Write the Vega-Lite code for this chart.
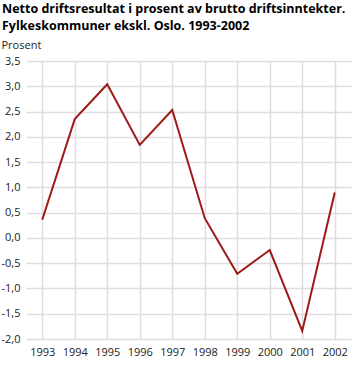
{
  "$schema": "https://vega.github.io/schema/vega-lite/v6.json",
  "width": 325,
  "height": 278,
  "autosize": "none",
  "padding": {"left": 26, "top": 61, "right": 11, "bottom": 26},
  "background": "white",
  "title": {
    "text": ["Netto driftsresultat i prosent av brutto driftsinntekter.", "Fylkeskommuner ekskl. Oslo. 1993-2002"],
    "anchor": "start",
    "frame": "group",
    "dx": -24,
    "offset": 7,
    "font": "Open Sans",
    "fontSize": 12.5,
    "fontWeight": "bold",
    "color": "#000000",
    "lineHeight": 17
  },
  "config": {
    "locale": {"number": {"decimal": ",", "thousands": " ", "grouping": [3], "currency": ["", " kr"], "minus": "-"}},
    "view": {"stroke": null},
    "axis": {"labelFont": "Open Sans", "labelFontSize": 11, "labelColor": "#222222", "gridColor": "#dddddd", "gridWidth": 1.5, "domain": false, "ticks": false}
  },
  "data": {
    "values": [
      {"year": "1993", "value": 0.36},
      {"year": "1994", "value": 2.35},
      {"year": "1995", "value": 3.04},
      {"year": "1996", "value": 1.84},
      {"year": "1997", "value": 2.53},
      {"year": "1998", "value": 0.39},
      {"year": "1999", "value": -0.71},
      {"year": "2000", "value": -0.24},
      {"year": "2001", "value": -1.84},
      {"year": "2002", "value": 0.90}
    ]
  },
  "mark": {"type": "line", "color": "#9e1a17", "strokeWidth": 2},
  "encoding": {
    "x": {
      "field": "year",
      "type": "ordinal",
      "scale": {"padding": 0.5},
      "axis": {"title": null, "labelAngle": 0, "labelPadding": 7, "grid": true}
    },
    "y": {
      "field": "value",
      "type": "quantitative",
      "scale": {"domain": [-2, 3.5], "nice": false, "zero": false},
      "axis": {
        "values": [-2, -1.5, -1, -0.5, 0, 0.5, 1, 1.5, 2, 2.5, 3, 3.5],
        "format": ".1f",
        "labelPadding": 6,
        "title": "Prosent",
        "titleAngle": 0,
        "titleAlign": "left",
        "titleBaseline": "bottom",
        "titleX": -25,
        "titleY": -11,
        "titleFont": "Open Sans",
        "titleFontSize": 11,
        "titleFontWeight": "normal",
        "titleColor": "#222222"
      }
    }
  }
}
